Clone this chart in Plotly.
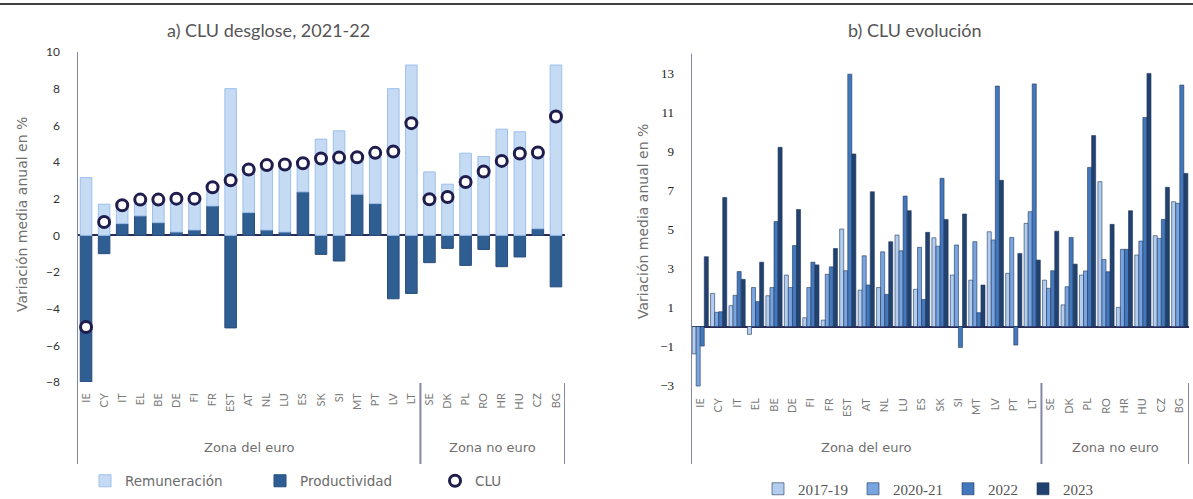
import plotly.graph_objects as go

# panel a) CLU desglose, 2021-22
paises_a = ["IE", "CY", "IT", "EL", "BE", "DE", "FI", "FR", "EST", "AT", "NL", "LU", "ES", "SK",
            "SI", "MT", "PT", "LV", "LT", "SE", "DK", "PL", "RO", "HR", "HU", "CZ", "BG"]
remuneracion = [3.15, 1.7, 1.0, 0.9, 1.26, 1.82, 1.71, 1.02, 8.0, 2.35, 3.54, 3.68, 1.56, 5.25,
                5.7, 2.02, 2.77, 8.0, 9.29, 3.46, 2.79, 4.48, 4.3, 5.79, 5.65, 4.16, 9.29]
productividad = [-8.0, -1.0, 0.64, 1.06, 0.69, 0.18, 0.29, 1.6, -5.05, 1.24, 0.29, 0.18, 2.37, -1.04,
                 -1.4, 2.24, 1.73, -3.46, -3.17, -1.49, -0.71, -1.64, -0.77, -1.71, -1.18, 0.36, -2.81]
clu = [-5.0, 0.73, 1.64, 1.95, 1.95, 2.0, 2.0, 2.62, 3.0, 3.59, 3.83, 3.86, 3.93, 4.19,
       4.24, 4.26, 4.5, 4.57, 6.12, 1.97, 2.09, 2.91, 3.48, 4.06, 4.46, 4.52, 6.48]

# panel b) CLU evolución
paises_b = ["IE", "CY", "IT", "EL", "BE", "DE", "FI", "FR", "EST", "AT", "NL", "LU", "ES", "SK",
            "SI", "MT", "LV", "PT", "LT", "SE", "DK", "PL", "RO", "HR", "HU", "CZ", "BG"]
v_2017_19 = [-1.4, 1.7, 1.07, -0.4, 1.58, 2.64, 0.45, 0.33, 5.0, 1.87, 2.0, 4.69, 1.91, 4.55,
             2.64, 2.38, 4.86, 2.73, 5.29, 2.38, 1.11, 2.64, 7.43, 0.98, 3.67, 4.66, 6.4]
v_2020_21 = [-3.05, 0.73, 1.6, 2.0, 2.0, 2.0, 2.0, 2.68, 2.86, 3.63, 3.83, 3.88, 4.06, 4.12,
             4.18, 4.35, 4.44, 4.57, 5.89, 1.96, 2.04, 2.85, 3.44, 3.96, 4.38, 4.52, 6.32]
v_2022 = [-1.0, 0.76, 2.82, 1.28, 5.38, 4.15, 3.3, 3.06, 12.94, 2.13, 1.65, 6.69, 1.39, 7.6,
          -1.07, 0.71, 12.33, -0.95, 12.44, 2.86, 4.57, 8.16, 2.81, 3.96, 10.72, 5.49, 12.38]
v_2023 = [3.58, 6.62, 2.42, 3.3, 9.19, 6.0, 3.16, 4.0, 8.85, 6.91, 4.35, 5.94, 4.83, 5.49,
          5.77, 2.13, 7.5, 3.75, 3.41, 4.89, 3.2, 9.79, 5.24, 5.94, 12.98, 7.14, 7.85]

ticks_a = [-8, -6, -4, -2, 0, 2, 4, 6, 8, 10]
ticks_b = [-3, -1, 1, 3, 5, 7, 9, 11, 13]

W, H = 1193, 499
T, B = 52, 112
PH = H - T - B

def px_x(p):
    return p / W

def px_y(p):
    return (H - B - p) / PH

SANS = "Lato, 'Open Sans', sans-serif"
WIDE = "'DejaVu Sans', sans-serif"
SERIF = "'Liberation Serif', 'DejaVu Serif', serif"
GRIS = "#6b6b6b"
EJE = "#8585a8"

fig = go.Figure()

# stacked look: remuneración sits on top of positive productividad
base_rem = [p if p > 0 else 0 for p in productividad]

fig.add_bar(x=paises_a, y=productividad, name="Productividad", offsetgroup="a", width=0.64,
            marker=dict(color="#2f5e93", line=dict(color="#284d7a", width=1)),
            xaxis="x", yaxis="y", legend="legend", legendrank=2)
fig.add_bar(x=paises_a, y=remuneracion, base=base_rem, name="Remuneración", offsetgroup="a", width=0.64,
            marker=dict(color="#c5daf3", line=dict(color="#9dc0ec", width=1)),
            xaxis="x", yaxis="y", legend="legend", legendrank=1)
fig.add_scatter(x=paises_a, y=clu, mode="markers", name="CLU",
                marker=dict(symbol="circle", size=11, color="white",
                            line=dict(color="#1f1d4d", width=3)),
                xaxis="x", yaxis="y", legend="legend", legendrank=3)

series_b = [("2017-19", v_2017_19, "#b3cdee"), ("2020-21", v_2020_21, "#78a5e0"),
            ("2022", v_2022, "#4378bd"), ("2023", v_2023, "#21416f")]
for nombre, vals, col in series_b:
    fig.add_bar(x=paises_b, y=vals, name=nombre, offsetgroup=nombre,
                marker=dict(color=col, line=dict(color="#22365c", width=0.6)),
                xaxis="x2", yaxis="y2", legend="legend2")

ax_x = dict(type="category", tickangle=-90, showgrid=False, showline=False, ticks="",
            tickfont=dict(family=SANS, size=11, color="#7a7a7a"), ticklabelstandoff=8,
            range=[-0.5, 26.5], fixedrange=True)
fig.update_layout(
    width=W, height=H,
    margin=dict(l=0, r=0, t=T, b=B, autoexpand=False),
    paper_bgcolor="white", plot_bgcolor="white",
    barmode="group", bargap=0.12, bargroupgap=0,
    showlegend=True,
    font=dict(family=SANS, color=GRIS),
    xaxis=dict(ax_x, domain=[px_x(77), px_x(565)], anchor="y",
               categoryorder="array", categoryarray=paises_a),
    yaxis=dict(domain=[px_y(382), 1], range=[-8, 10], tickvals=ticks_a, showgrid=False,
               zeroline=True, zerolinecolor="#2b2a55", zerolinewidth=1.5, showline=False,
               tickfont=dict(family=SANS, size=12, color="#333333"), ticklabelstandoff=16,
               anchor="x"),
    xaxis2=dict(ax_x, domain=[px_x(691), px_x(1189)], anchor="y2",
                categoryorder="array", categoryarray=paises_b),
    yaxis2=dict(domain=[0, px_y(53.5)], range=[-3.1, 14], tickvals=ticks_b, showgrid=False,
                zeroline=True, zerolinecolor="#2b2a55", zerolinewidth=1.5, showline=False,
                tickfont=dict(family=SERIF, size=13, color="#222222"), ticklabelstandoff=16,
                anchor="x2"),
    legend=dict(orientation="h", x=px_x(85), y=px_y(481), xanchor="left", yanchor="middle",
                entrywidth=130, itemwidth=30, traceorder="normal",
                font=dict(family=WIDE, size=13.5, color=GRIS)),
    legend2=dict(orientation="h", x=px_x(758), y=px_y(489), xanchor="left", yanchor="middle",
                 itemwidth=30, traceorder="normal",
                 font=dict(family=SERIF, size=15, color="#555555")),
)

shapes = [dict(type="line", xref="paper", yref="paper", x0=0, x1=1, y0=px_y(4), y1=px_y(4),
               line=dict(color="black", width=1.5))]
for xr, top in (("x", px_y(52)), ("x2", px_y(53.5))):
    shapes.append(dict(type="line", xref=xr, yref="paper", x0=-0.5, x1=-0.5, y0=top, y1=px_y(464),
                       line=dict(color=EJE, width=2)))
    for pos in (18.5, 26.5):
        shapes.append(dict(type="line", xref=xr, yref="paper", x0=pos, x1=pos, y0=px_y(383),
                           y1=px_y(464), line=dict(color=EJE, width=2)))
fig.update_layout(shapes=shapes)

anns = [
    dict(text="a) CLU desglose, 2021-22", x=px_x(268), y=px_y(30),
         font=dict(family=SANS, size=18, color="#555555")),
    dict(text="b) CLU evolución", x=px_x(915), y=px_y(30),
         font=dict(family=SANS, size=18, color="#555555")),
    dict(text="Variación media anual en %", x=px_x(22), y=px_y(215), textangle=-90,
         font=dict(family=WIDE, size=14, color="#707070")),
    dict(text="Variación media anual en %", x=px_x(643), y=px_y(222), textangle=-90,
         font=dict(family=WIDE, size=14, color="#707070")),
]
for xr in ("x", "x2"):
    anns.append(dict(text="Zona del euro", xref=xr, x=9, y=px_y(447),
                     font=dict(family=WIDE, size=13, color="#707070")))
    anns.append(dict(text="Zona no euro", xref=xr, x=22.5, y=px_y(447),
                     font=dict(family=WIDE, size=13, color="#707070")))
for a in anns:
    a.setdefault("xref", "paper")
    a.update(yref="paper", showarrow=False, xanchor="center", yanchor="middle")
fig.update_layout(annotations=anns)

# the page body has a default 8px margin; drop it so the figure fills the window
fig.write_html("out.html", config={"displayModeBar": False},
               post_script="document.body.style.margin='0px';")
